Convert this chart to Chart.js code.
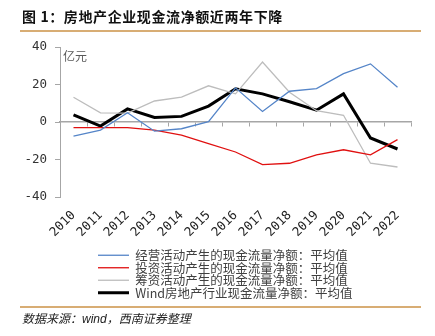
<!DOCTYPE html>
<html>
<head>
<meta charset="utf-8">
<script src="https://cdn.jsdelivr.net/npm/chart.js@4"></script>
<style>
  html, body { margin: 0; padding: 0; background: #fff; }
  #wrap { position: relative; width: 435px; height: 336px; overflow: hidden; }
  #c { position: absolute; left: 0; top: 0; }
  .title { position: absolute; left: 22px; top: 6px; font: bold 14px "Noto Sans CJK SC", sans-serif; color: #111; letter-spacing: 0.6px; white-space: nowrap; }
  .rule { position: absolute; left: 20px; width: 401px; height: 2px; background: #d8ad74; }
  .unit { position: absolute; left: 63px; top: 47px; font: 12px "Noto Sans CJK SC", sans-serif; color: #595959; }
  .source { position: absolute; left: 22px; top: 309px; font: italic 12px "Noto Sans CJK SC", sans-serif; color: #222; white-space: nowrap; }
</style>
</head>
<body>
<div id="wrap">
  <canvas id="c" width="435" height="336"></canvas>
  <div class="title">图 1：房地产企业现金流净额近两年下降</div>
  <div class="rule" style="top:30px"></div>
  <div class="unit">亿元</div>
  <div class="rule" style="top:306px"></div>
  <div class="source">数据来源：<span style="font-family:'Liberation Sans',sans-serif">wind</span>，西南证券整理</div>
</div>
<script>
// 年份
let years = ['2010', '2011', '2012', '2013', '2014', '2015', '2016', '2017', '2018', '2019', '2020', '2021', '2022'];

// 亿元
let jingying = [-7.5, -4.3, 4.9, -4.9, -3.6, 0.2, 18.2, 5.6, 16.4, 17.8, 25.8, 31.0, 18.5];
let touzi = [-3.0, -3.0, -3.0, -4.3, -7.0, -11.5, -16.0, -22.7, -22.0, -17.5, -14.8, -17.5, -9.4];
let chouzi = [13.2, 4.9, 4.7, 11.2, 13.3, 19.3, 15.0, 32.0, 15.9, 6.0, 3.6, -22.0, -24.0];
let wind = [3.8, -2.2, 7.0, 2.4, 3.0, 8.5, 17.7, 15.0, 10.8, 6.3, 15.0, -8.5, -14.4];

let seriesNames = [
    '经营活动产生的现金流量净额：平均值',
    '投资活动产生的现金流量净额：平均值',
    '筹资活动产生的现金流量净额：平均值',
    'Wind房地产行业现金流量净额：平均值'
];
let yTicks = [-40, -20, 0, 20, 40];

const axisGray = '#a6a6a6';
const monoFont = { family: '"DejaVu Sans Mono", monospace', size: 12.5 };

function makeLine(label, data, color, width) {
    return {
        label: label,
        data: data,
        borderColor: color,
        backgroundColor: color,
        borderWidth: width,
        pointRadius: 0,
        pointHoverRadius: 0,
        pointBorderColor: color,
        pointBorderWidth: width,
        tension: 0,
        xAxisID: 'x',
        yAxisID: 'y'
    };
}

// move the legend block so the rows start under the plot like the original
const legendShift = {
    id: 'legendShift',
    afterLayout(chart) {
        if (chart.legend) {
            chart.legend.left = 98;
            chart.legend.right = 430;
        }
    }
};

new Chart(document.getElementById('c'), {
    type: 'line',
    data: {
        labels: years,
        datasets: [
            makeLine(seriesNames[0], jingying, '#5585c8', 1.3),
            makeLine(seriesNames[1], touzi, '#e01010', 1.3),
            makeLine(seriesNames[2], chouzi, '#bdbdbd', 1.3),
            makeLine(seriesNames[3], wind, '#000000', 3)
        ]
    },
    options: {
        responsive: false,
        animation: false,
        layout: { padding: { top: 47, right: 24, left: 0, bottom: 27 } },
        plugins: {
            tooltip: { enabled: false },
            legend: {
                position: 'bottom',
                align: 'start',
                labels: {
                    usePointStyle: true,
                    pointStyle: 'line',
                    pointStyleWidth: 31,
                    padding: 0,
                    color: '#404040',
                    font: { family: '"Noto Sans CJK SC", sans-serif', size: 12.5 }
                }
            }
        },
        scales: {
            x: {
                type: 'category',
                position: 'bottom',
                offset: true,
                grid: { display: false, drawTicks: false },
                border: { display: false },
                ticks: {
                    color: '#222',
                    font: monoFont,
                    minRotation: 45,
                    maxRotation: 45,
                    padding: 11,
                    autoSkip: false
                },
                afterFit(scale) { scale.height = 52; }
            },
            x2: {
                type: 'category',
                position: { y: 0 },
                offset: true,
                grid: {
                    display: true,
                    offset: true,
                    drawOnChartArea: false,
                    drawTicks: true,
                    tickLength: 4,
                    color: axisGray
                },
                border: { display: true, color: axisGray, width: 1.5 },
                ticks: { display: false }
            },
            y: {
                min: -40,
                max: 40,
                afterBuildTicks(scale) {
                    scale.ticks = yTicks.map(v => ({ value: v }));
                },
                grid: {
                    display: true,
                    drawOnChartArea: false,
                    drawTicks: true,
                    tickLength: 5,
                    color: axisGray
                },
                border: { display: true, color: axisGray, width: 1 },
                ticks: {
                    color: '#333',
                    font: { family: '"DejaVu Sans Mono", monospace', size: 12.5 },
                    padding: 8
                },
                afterFit(scale) { scale.width = 60; }
            }
        }
    },
    plugins: [legendShift]
});
</script>
</body>
</html>
